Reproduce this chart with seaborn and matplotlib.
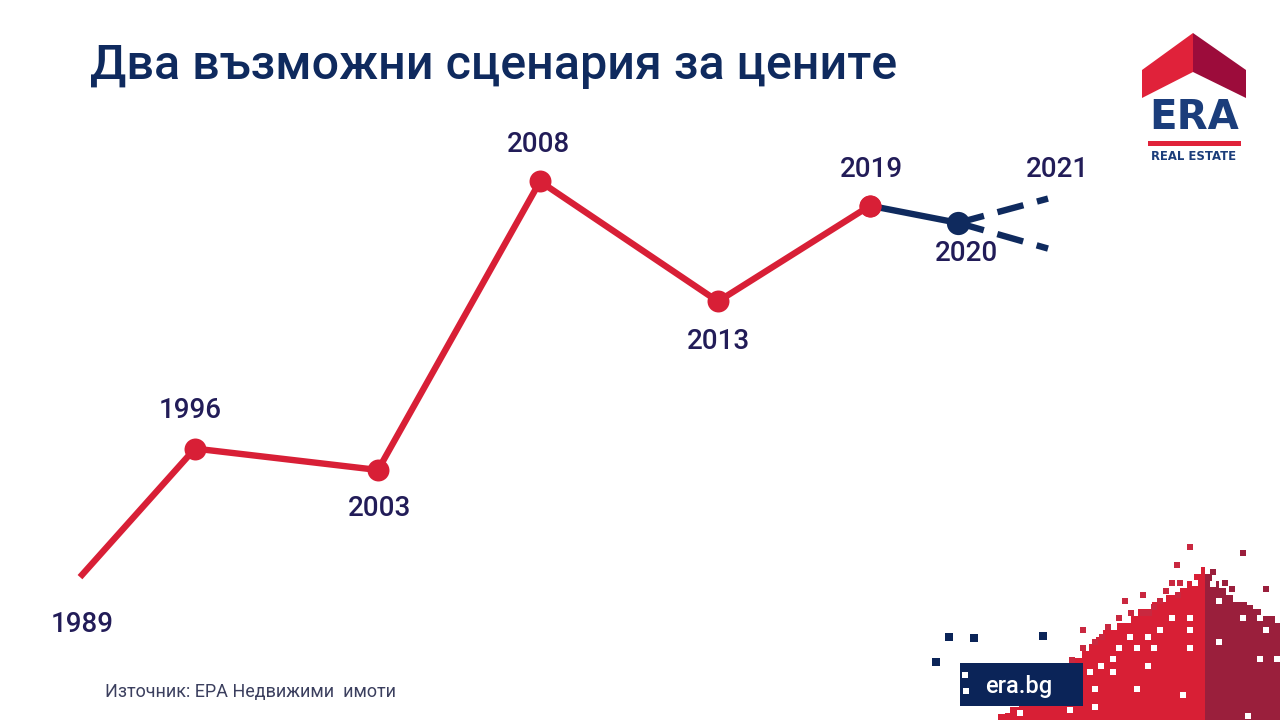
import numpy as np
import pandas as pd
import seaborn as sns
import matplotlib.pyplot as plt
from matplotlib.patches import Polygon, Rectangle

# ---- chart data ----
YEARS = ["1989", "1996", "2003", "2008", "2013", "2019"]
TIMELINE = [0.0, 1.15, 2.98, 4.60, 6.38, 7.90]          # horizontal position on the timeline
PRICE_INDEX = [100, 190, 175, 377, 293, 360]            # relative price level

YEAR_2020 = "2020"
TIMELINE_2020 = 8.78
PRICE_2020 = 348

YEAR_2021 = "2021"
TIMELINE_2021 = 9.68
SCENARIO_UP = 365
SCENARIO_DOWN = 330

TITLE = "Два възможни сценария за цените"
SOURCE = "Източник: ЕРА Недвижими  имоти"

RED = "#d81f36"
NAVY = "#0f2a5e"
LABEL_COLOR = "#221c58"

sns.set_style("white")
plt.rcParams["font.family"] = ["Roboto", "DejaVu Sans"]

fig = plt.figure(figsize=(12.8, 7.2), dpi=100)
ax = fig.add_axes([0, 0, 1, 1])
ax.set_xlim(-0.8, 12.0)
ax.set_ylim(0, 504)
ax.axis("off")

hist = pd.DataFrame({"year": YEARS, "x": TIMELINE, "price": PRICE_INDEX})

# historical red line
sns.lineplot(data=hist, x="x", y="price", color=RED, linewidth=4.6,
             solid_capstyle="butt", sort=False, ax=ax, zorder=2)
sns.scatterplot(data=hist.iloc[1:], x="x", y="price", color=RED, s=250,
                linewidth=0, ax=ax, zorder=3)

# 2019 -> 2020 solid navy
seg = pd.DataFrame({"x": [TIMELINE[-1], TIMELINE_2020],
                    "price": [PRICE_INDEX[-1], PRICE_2020]})
sns.lineplot(data=seg, x="x", y="price", color=NAVY, linewidth=4.6, ax=ax, zorder=2)

# 2021 scenarios (dashed)
for target in (SCENARIO_UP, SCENARIO_DOWN):
    sc = pd.DataFrame({"x": [TIMELINE_2020, TIMELINE_2021],
                       "price": [PRICE_2020, target]})
    sns.lineplot(data=sc, x="x", y="price", color=NAVY, linewidth=4.6, ax=ax,
                 zorder=2, dashes=False, linestyle=(0, (4.2, 2.2)))

# re-draw the 2019 dot above the navy line, then the 2020 dot
ax.scatter([TIMELINE[-1]], [PRICE_INDEX[-1]], s=250, color=RED, linewidth=0, zorder=4)
ax.scatter([TIMELINE_2020], [PRICE_2020], s=280, color=NAVY, linewidth=0, zorder=4)

# year labels (offsets in pixels)
offsets = {"1989": (2, -47), "1996": (-5, 38), "2003": (2, -38), "2008": (-2, 37),
           "2013": (0, -40), "2019": (1, 36)}
label_kw = dict(textcoords="offset pixels", ha="center", va="center",
                fontsize=20, color=LABEL_COLOR, fontweight="medium")
for yr, x, y in zip(YEARS, TIMELINE, PRICE_INDEX):
    ax.annotate(yr, (x, y), xytext=offsets[yr], **label_kw)
ax.annotate(YEAR_2020, (TIMELINE_2020, PRICE_2020), xytext=(9, -31), **label_kw)
ax.annotate(YEAR_2021, (TIMELINE_2021, SCENARIO_UP), xytext=(9, 29), **label_kw)

# title and source
fig.text(90 / 1280, 1 - 66 / 720, TITLE, fontsize=34.8, color=NAVY,
         fontweight="medium", va="center", ha="left")
fig.text(105 / 1280, 1 - 692 / 720, SOURCE, fontsize=13, color="#3b3f5e",
         va="center", ha="left")

# ---- decoration overlay in pixel space (logo + pixel mountain) ----
deco = fig.add_axes([0, 0, 1, 1], zorder=5)
deco.set_xlim(0, 1280)
deco.set_ylim(720, 0)
deco.axis("off")
deco.patch.set_alpha(0)

# ERA logo
deco.add_patch(Polygon([(1142, 70), (1193, 33), (1193, 72), (1142, 98)],
                       closed=True, color="#e0223a", lw=0))
deco.add_patch(Polygon([(1193, 33), (1246, 70), (1246, 98), (1193, 72)],
                       closed=True, color="#9c0c3b", lw=0))
deco.text(1194, 118, "ERA", fontsize=29, fontweight="bold", color="#1b3d7b",
          ha="center", va="center", family="DejaVu Sans")
deco.add_patch(Rectangle((1148, 141), 93, 5, color="#e0223a", lw=0))
deco.text(1194, 156, "REAL ESTATE", fontsize=8.4, fontweight="bold", color="#1b3d7b",
          ha="center", va="center", family="DejaVu Sans")

# pixel mountain
CELL = 7
red_x = [1000, 1010, 1020, 1030, 1040, 1050, 1060, 1070, 1083, 1090, 1100, 1110,
         1120, 1130, 1140, 1150, 1160, 1170, 1180, 1190, 1197, 1204]
red_y = [715, 708, 702, 695, 688, 682, 675, 668, 656, 647, 638, 631, 625, 618, 610,
         605, 601, 598, 594, 580, 573, 568]
dark_x = [1205, 1214, 1220, 1227, 1233, 1240, 1247, 1253, 1260, 1267, 1273, 1281]
dark_y = [572, 578, 586, 592, 598, 603, 605, 610, 612, 617, 620, 623]
for xs, ys, col, x0, x1 in ((red_x, red_y, "#d81f35", 998, 1205),
                             (dark_x, dark_y, "#9a1f3c", 1205, 1281)):
    for cx in np.arange(x0, x1, CELL):
        top = np.interp(cx + CELL / 2, xs, ys)
        top = np.round(top / CELL) * CELL
        w = min(CELL, x1 - cx)
        deco.add_patch(Rectangle((cx, top), w, 720 - top, color=col, lw=0))

holes = [(1195, 583), (1172, 618), (1190, 618), (1160, 630), (1190, 630), (1130, 637),
         (1148, 637), (1119, 648), (1137, 648), (1154, 648), (1190, 648), (1113, 659),
         (1101, 666), (1148, 666), (1090, 672), (1113, 672), (1095, 689), (1137, 689),
         (1183, 695), (1095, 707), (1007, 710), (1020, 713), (1219, 601), (1243, 618),
         (1260, 618), (1266, 630), (1219, 642), (1260, 659), (1277, 659), (1248, 716),
         (1213, 584), (1070, 710), (1060, 700)]
for hx, hy in holes:
    deco.add_patch(Rectangle((hx - 3, hy - 3), 6, 6, color="white", lw=0))

red_bits = [(1190, 547), (1177, 565), (1172, 583), (1180, 583), (1143, 595), (1125, 601),
            (1160, 601), (1178, 595), (1131, 613), (1143, 613), (1149, 613), (1154, 607),
            (1119, 618), (1083, 630), (1102, 637), (1095, 642), (1083, 648), (1072, 660),
            (1108, 627), (1166, 591)]
for bx, by in red_bits:
    deco.add_patch(Rectangle((bx - 3, by - 3), 6, 6, color="#c9283f", lw=0))
dark_bits = [(1243, 553), (1213, 572), (1225, 583), (1232, 589), (1266, 589), (1250, 608)]
for bx, by in dark_bits:
    deco.add_patch(Rectangle((bx - 3, by - 3), 6, 6, color="#9a1f3c", lw=0))

# era.bg box and navy squares
deco.add_patch(Rectangle((960, 663), 123, 43, color="#0b2458", lw=0))
for wx, wy in [(962, 672), (963, 688)]:
    deco.add_patch(Rectangle((wx, wy), 6, 6, color="white", lw=0))
for nx, ny in [(949, 637), (974, 638), (1043, 636), (936, 662), (970, 667)]:
    deco.add_patch(Rectangle((nx - 4, ny - 4), 8, 8, color="#0b2458", lw=0))
deco.text(1019, 686, "era.bg", fontsize=17, fontweight="medium", color="white",
          ha="center", va="center")

fig.savefig("out.png", dpi=100)
